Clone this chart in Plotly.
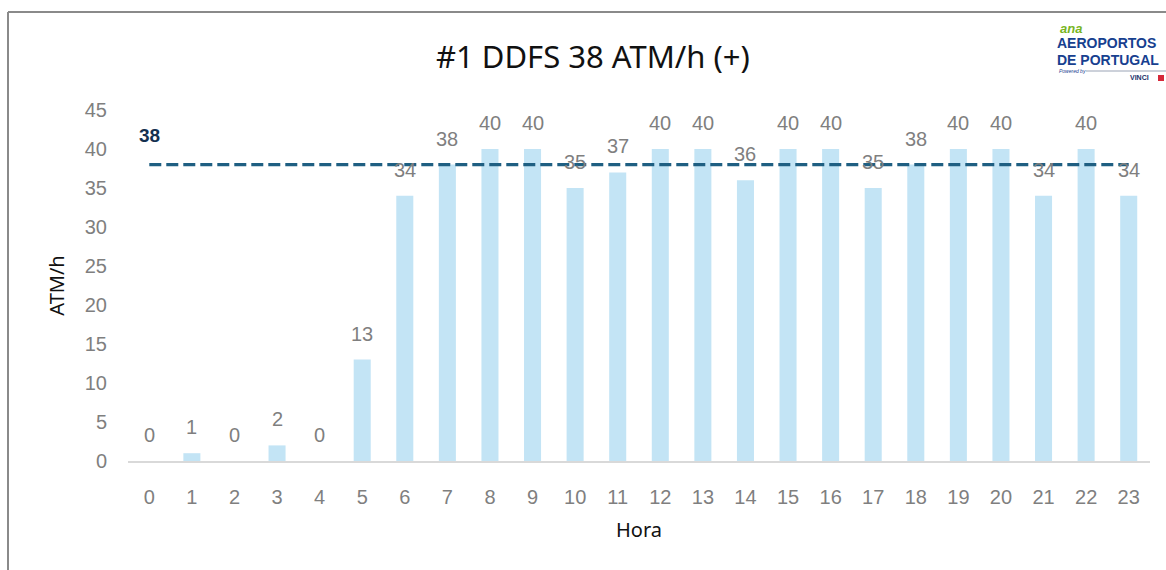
import plotly.graph_objects as go

# Hourly ATM counts for the day
hours = list(range(24))
atm = [0, 1, 0, 2, 0, 13, 34, 38, 40, 40, 35, 37, 40, 40, 36, 40, 40, 35, 38, 40, 40, 34, 40, 34]
capacity = 38
title_text = "#1 DDFS 38 ATM/h (+)"
y_ticks = [0, 5, 10, 15, 20, 25, 30, 35, 40, 45]

W, H = 1166, 570
ML, MR, MT, MB = 128, 16, 110, 109
pw = W - ML - MR
ph = H - MT - MB

def px_x(p):
    return (p - ML) / pw

def px_y(p):
    return (H - MB - p) / ph

label_font = dict(family="Liberation Sans, Arial, sans-serif", size=20, color="#7f7f7f")

fig = go.Figure()
fig.add_trace(go.Bar(
    x=hours, y=atm, width=0.4, marker=dict(color="#c3e4f5", line=dict(width=0)),
    hoverinfo="x+y", showlegend=False,
))
fig.add_trace(go.Scatter(
    x=[hours[0], hours[-1]], y=[capacity, capacity], mode="lines",
    line=dict(color="#1f5f82", width=3.2, dash="12px,5px"),
    hoverinfo="skip", showlegend=False,
))

annotations = []
for h, v in zip(hours, atm):
    annotations.append(dict(
        x=h, y=v, xref="x", yref="y", text=str(v), showarrow=False,
        yanchor="bottom", yshift=13, font=label_font,
    ))
annotations.append(dict(
    x=hours[0], y=capacity, xref="x", yref="y", text="<b>%d</b>" % capacity,
    showarrow=False, yanchor="bottom", yshift=17,
    font=dict(family="Liberation Sans, Arial, sans-serif", size=19, color="#14304f"),
))
# Title centred on the chart frame
annotations.append(dict(
    x=px_x(593), y=px_y(56), xref="paper", yref="paper", text=title_text,
    showarrow=False, xanchor="center", yanchor="middle",
    font=dict(family="Noto Sans, sans-serif", size=31, color="#111111"),
))
# Brand mark in the top-right corner
logo_blue = "#17408f"
annotations += [
    dict(x=px_x(1058), y=px_y(28), xref="paper", yref="paper", text="<b><i>ana</i></b>",
         showarrow=False, xanchor="left", yanchor="middle",
         font=dict(family="Liberation Sans, Arial", size=13, color="#78b51f")),
    dict(x=px_x(1055), y=px_y(43), xref="paper", yref="paper", text="<b>AEROPORTOS</b>",
         showarrow=False, xanchor="left", yanchor="middle",
         font=dict(family="Liberation Sans, Arial", size=14, color=logo_blue)),
    dict(x=px_x(1055), y=px_y(60), xref="paper", yref="paper", text="<b>DE PORTUGAL</b>",
         showarrow=False, xanchor="left", yanchor="middle",
         font=dict(family="Liberation Sans, Arial", size=14, color=logo_blue)),
    dict(x=px_x(1057), y=px_y(71), xref="paper", yref="paper", text="<i>Powered by</i>",
         showarrow=False, xanchor="left", yanchor="middle",
         font=dict(family="Liberation Sans, Arial", size=5, color=logo_blue)),
    dict(x=px_x(1128), y=px_y(78), xref="paper", yref="paper", text="<b>VINCI</b>",
         showarrow=False, xanchor="left", yanchor="middle",
         font=dict(family="Liberation Sans, Arial", size=7, color="#1a2f6b")),
]

shapes = [
    # outer chart frame (left and top edges visible)
    dict(type="line", xref="paper", yref="paper", x0=px_x(8), x1=px_x(8),
         y0=px_y(12), y1=px_y(600), line=dict(color="#8a8a8a", width=2)),
    dict(type="line", xref="paper", yref="paper", x0=px_x(8), x1=px_x(1200),
         y0=px_y(12), y1=px_y(12), line=dict(color="#8a8a8a", width=2)),
    # logo rule and accent
    dict(type="line", xref="paper", yref="paper", x0=px_x(1086), x1=px_x(1166),
         y0=px_y(71), y1=px_y(71), line=dict(color="#9aa3b5", width=1)),
    dict(type="rect", xref="paper", yref="paper", x0=px_x(1158), x1=px_x(1164),
         y0=px_y(81), y1=px_y(75), line=dict(width=0), fillcolor="#d62839"),
]

fig.update_layout(
    width=W, height=H,
    margin=dict(l=ML, r=MR, t=MT, b=MB),
    paper_bgcolor="white", plot_bgcolor="white",
    annotations=annotations, shapes=shapes,
    bargap=0.6,
    xaxis=dict(
        range=[-0.5, 23.5], tickmode="array", tickvals=hours, ticktext=[str(h) for h in hours],
        showgrid=False, zeroline=False, showline=True, linecolor="#d9d9d9", linewidth=1.5,
        ticks="", tickfont=label_font, ticklabelstandoff=17,
        title=dict(text="Hora", font=dict(family="Noto Sans, sans-serif", size=20, color="#111111"),
                   standoff=16),
    ),
    yaxis=dict(
        range=[0, 45], tickmode="array", tickvals=y_ticks, ticktext=[str(t) for t in y_ticks],
        showgrid=False, zeroline=False, showline=False, ticks="",
        tickfont=label_font, ticklabelstandoff=20,
        title=dict(text="ATM/h", font=dict(family="Noto Sans, sans-serif", size=20, color="#111111"),
                   standoff=14),
    ),
)

fig.write_html("out.html")
